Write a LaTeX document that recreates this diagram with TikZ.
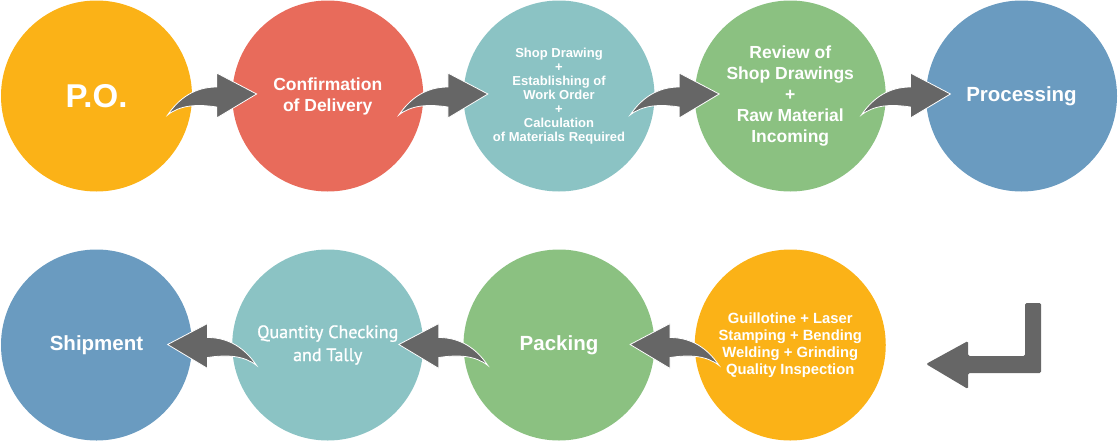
\documentclass[tikz,border=0pt]{standalone}
\usepackage{fontspec}
\setmainfont{Liberation Sans}
\newfontfamily\qtyfont[FakeBold=0.9]{PT Sans}
\usetikzlibrary{calc}

\definecolor{stageorange}{RGB}{251,178,23}
\definecolor{stagered}{RGB}{232,107,91}
\definecolor{stageteal}{RGB}{139,195,196}
\definecolor{stagegreen}{RGB}{139,193,129}
\definecolor{stageblue}{RGB}{106,155,192}
\definecolor{arrowgray}{RGB}{102,102,102}

\tikzset{
  stagecircle/.style={circle, minimum size=191, inner sep=0pt, text=white, align=center},
  bentarrow/.style={fill=arrowgray, draw=white, line width=0.8pt, line join=miter},
}

% curved arrow between two circles, drawn round (0,0)
\newcommand{\bentarrowpath}{%
  \filldraw[bentarrow] (-44.5,19) .. controls (-33,2) and (-17,-9) .. (4.5,-9)
    -- (4.5,-23) -- (44.5,-2) -- (4.5,22) -- (4.5,11)
    .. controls (-15,8) and (-32,9) .. cycle;}

\begin{document}
\begin{tikzpicture}[x=1pt,y=-1pt]
\useasboundingbox (0,0) rectangle (1118,442);

% top row
\node[stagecircle, fill=stageorange, font=\bfseries\fontsize{33}{36}\selectfont] (po) at (96.5,96) {P.O.};
\node[stagecircle, fill=stagered, font=\bfseries\fontsize{17.5}{21}\selectfont] (conf) at (327.75,96) {Confirmation\\of Delivery};
\node[stagecircle, fill=stageteal, font=\bfseries\fontsize{13}{14}\selectfont] (shop) at (559,96)
  {Shop Drawing\\+\\Establishing of\\Work Order\\+\\Calculation\\of Materials Required};
\node[stagecircle, fill=stagegreen, font=\bfseries\fontsize{17.5}{21}\selectfont] (review) at (790.25,96)
  {Review of\\Shop Drawings\\+\\Raw Material\\Incoming};
\node[stagecircle, fill=stageblue, font=\bfseries\fontsize{20.5}{24}\selectfont] (proc) at (1021.5,96) {Processing};

% bottom row
\node[stagecircle, fill=stageorange, font=\bfseries\fontsize{14.8}{17}\selectfont] (cut) at (790.25,345)
  {Guillotine + Laser\\Stamping + Bending\\Welding + Grinding\\Quality Inspection};
\node[stagecircle, fill=stagegreen, font=\bfseries\fontsize{20.5}{24}\selectfont] (pack) at (559,345) {Packing};
\node[stagecircle, fill=stageteal, font=\qtyfont\fontsize{18}{23}\selectfont] (qty) at (327.75,345) {Quantity Checking\\and Tally};
\node[stagecircle, fill=stageblue, font=\bfseries\fontsize{20.5}{24}\selectfont] (ship) at (96.5,345) {Shipment};

% arrows of the top row
\begin{scope}[shift={($(po)!0.5!(conf)$)}] \bentarrowpath \end{scope}
\begin{scope}[shift={($(conf)!0.5!(shop)$)}] \bentarrowpath \end{scope}
\begin{scope}[shift={($(shop)!0.5!(review)$)}] \bentarrowpath \end{scope}
\begin{scope}[shift={($(review)!0.5!(proc)$)}] \bentarrowpath \end{scope}

% arrows of the bottom row, mirrored
\begin{scope}[shift={($(cut)!0.5!(pack)$)}, yshift=-1.5pt, xscale=-1] \bentarrowpath \end{scope}
\begin{scope}[shift={($(pack)!0.5!(qty)$)}, yshift=-1.5pt, xscale=-1] \bentarrowpath \end{scope}
\begin{scope}[shift={($(qty)!0.5!(ship)$)}, yshift=-1.5pt, xscale=-1] \bentarrowpath \end{scope}

% return arrow down to the second row
\fill[arrowgray, rounded corners=1.5pt] (1025,303) -- (1041,303) -- (1041,373) -- (968,373)
  -- (968,389) -- (926,364) -- (968,341) -- (968,356) -- (1025,356) -- cycle;
\end{tikzpicture}
\end{document}
